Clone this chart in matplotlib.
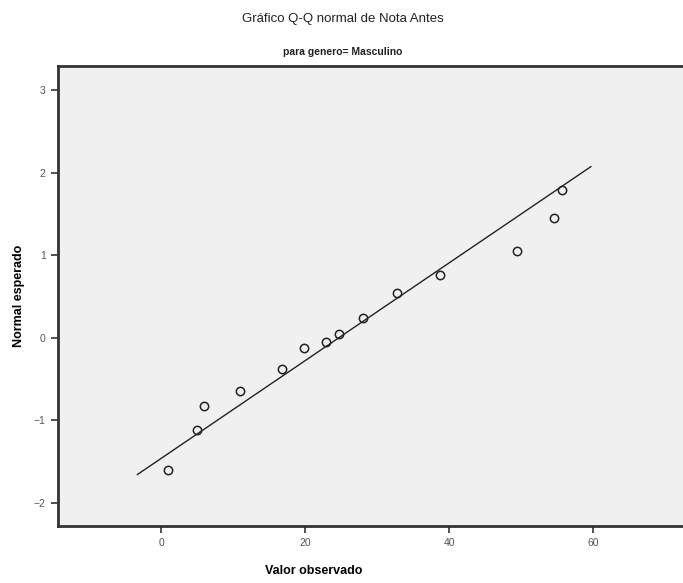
import numpy as np
import matplotlib.pyplot as plt

plt.rcParams['font.family'] = ['Liberation Sans', 'DejaVu Sans']

# observed values and their expected normal scores
valor_observado = [1, 5, 6, 11, 16.8, 19.8, 22.9, 24.7, 28, 32.7, 38.8, 49.5, 54.6, 55.7]
normal_esperado = [-1.60, -1.12, -0.83, -0.64, -0.38, -0.13, -0.05, 0.05, 0.24, 0.54, 0.76, 1.05, 1.45, 1.79]

# reference line: z = (x - media) / desvio
media = 24.7
desvio = 16.9
linha_x = [-3.3, 59.7]

xticks = [0, 20, 40, 60]
yticks = [-2, -1, 0, 1, 2, 3]

fig = plt.figure(figsize=(6.83, 5.83), dpi=100)
ax = fig.add_axes([0.0842, 0.0978, 0.9158, 0.789])
ax.set_facecolor('#f0f0f0')

lx = np.array(linha_x)
ax.plot(lx, (lx - media) / desvio, color='#222222', lw=1.0, zorder=2)
ax.plot(valor_observado, normal_esperado, 'o', ms=6, mfc='none',
        mec='#222222', mew=1.1, zorder=3)

ax.set_xlim(-14.4, 72.5)
ax.set_ylim(-2.28, 3.29)
ax.set_xticks(xticks)
ax.set_yticks(yticks)
ax.tick_params(direction='out', length=5, width=1.2, colors='#333333',
               labelsize=7.5, labelcolor='#555555')

for s in ['left', 'bottom', 'top']:
    ax.spines[s].set_linewidth(2)
    ax.spines[s].set_color('#333333')
ax.spines['right'].set_visible(False)

ax.set_xlabel('Valor observado', fontsize=9, fontweight='bold')
ax.xaxis.set_label_coords(0.41, -0.085)
ax.set_ylabel('Normal esperado', fontsize=9, fontweight='bold')
ax.yaxis.set_label_coords(-0.052, 0.5)

fig.text(0.502, 0.968, 'Gráfico Q-Q normal de Nota Antes', ha='center',
         va='center', fontsize=9.5, color='#222222')
fig.text(0.502, 0.91, 'para genero= Masculino', ha='center', va='center',
         fontsize=7.5, fontweight='bold', color='#222222')

fig.savefig('out.png', dpi=100)
